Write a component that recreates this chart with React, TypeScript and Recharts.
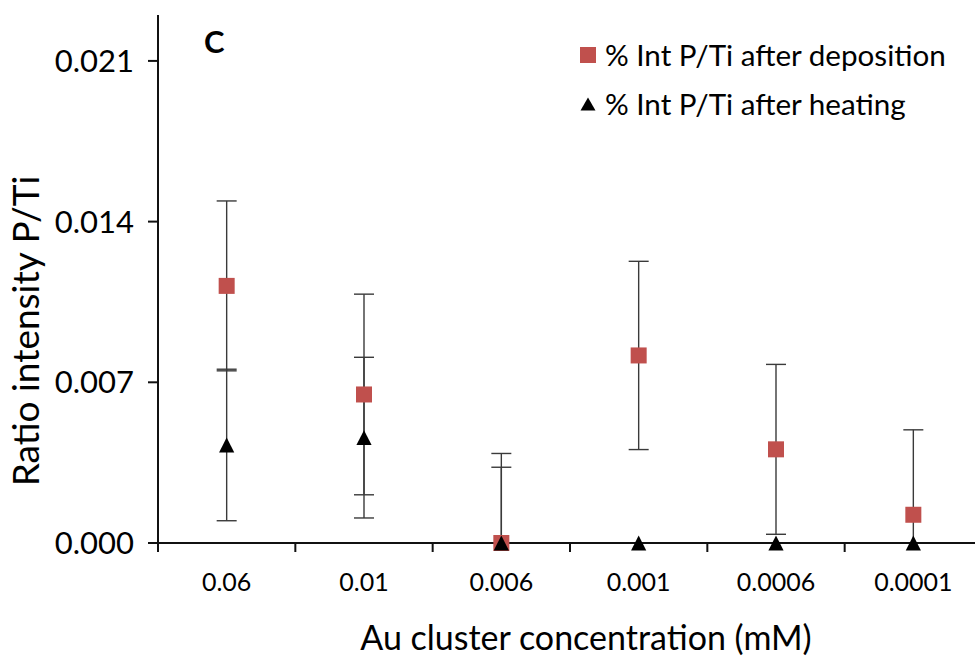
import React from 'react';
import { ScatterChart, Scatter, XAxis, YAxis, ErrorBar, Legend, Customized } from 'recharts';

// Au cluster concentrations (mM), one category per column
const CATEGORIES = ['0.06', '0.01', '0.006', '0.001', '0.0006', '0.0001'];

// P/Ti intensity ratio after deposition, with its standard deviation
const DEPOSITION = [0.0112, 0.00647, 0, 0.00817, 0.00408, 0.00123];
const DEPOSITION_ERR = [0.0037, 0.00437, 0.0039, 0.0041, 0.0037, 0.0037];

// P/Ti intensity ratio after heating, with its standard deviation
const HEATING = [0.00427, 0.00459, 0, 0, 0, 0];
const HEATING_ERR = [0.0033, 0.0035, 0.0033, 0, 0, 0];

const Y_TICKS = [0, 0.007, 0.014, 0.021];
const Y_MAX = 0.023;

const SERIES_NAMES = ['% Int P/Ti after deposition', '% Int P/Ti after heating'];

const FONT = "Lato, 'Open Sans', sans-serif";
const RED = '#C0504D';
const AXIS = '#111';
const ERR = '#3a3a3a';

const X_TICK_SIZE = 9;
const X_TICK_MARGIN = 4;

// error bars are clipped at the axis floor (the ratio cannot go below zero)
const toRows = (vals: number[], errs: number[]) =>
  vals.map((v, i) => ({ x: i + 0.5, y: v, err: [Math.min(errs[i], v), errs[i]] }));

const depositionRows = toRows(DEPOSITION, DEPOSITION_ERR);
const heatingRows = toRows(HEATING, HEATING_ERR);

// boundaries get tick marks, band centres get the category labels
const X_TICKS = Array.from({ length: CATEGORIES.length * 2 + 1 }, (_, k) => k / 2);

const XTick = (props: any) => {
  const { x, y, payload } = props;
  const v = payload.value as number;
  const axisY = y - X_TICK_SIZE - X_TICK_MARGIN;
  if (Number.isInteger(v)) {
    return <line x1={x} x2={x} y1={axisY} y2={axisY + X_TICK_SIZE} stroke={AXIS} strokeWidth={2} />;
  }
  return (
    <text x={x} y={axisY + 48} textAnchor="middle" fontFamily={FONT} fontSize={25} fill="#000">
      {CATEGORIES[Math.floor(v)]}
    </text>
  );
};

const Square = (props: any) => {
  const { cx, cy } = props;
  return <rect x={cx - 8} y={cy - 8} width={16} height={16} fill={RED} />;
};

const Triangle = (props: any) => {
  const { cx, cy } = props;
  return (
    <polygon
      points={`${cx},${cy - 7.4} ${cx + 7.6},${cy + 7.4} ${cx - 7.6},${cy + 7.4}`}
      fill="#000"
    />
  );
};

const Nothing = () => <g />;

const LegendBox = () => (
  <div style={{ fontFamily: FONT, fontSize: 29.6, color: '#000' }}>
    {SERIES_NAMES.map((name, i) => (
      <div key={name} style={{ display: 'flex', alignItems: 'center', height: 49, whiteSpace: 'nowrap' }}>
        <svg width={16} height={16} style={{ flex: 'none' }}>
          {i === 0 ? (
            <rect x={0} y={0} width={16} height={16} fill={RED} />
          ) : (
            <polygon points="8,1.5 15.5,14.5 0.5,14.5" fill="#000" />
          )}
        </svg>
        <span style={{ marginLeft: 9 }}>{name}</span>
      </div>
    ))}
  </div>
);

const Titles = () => (
  <g fontFamily={FONT} fill="#000">
    <text x={204} y={53} fontSize={31} fontWeight={700}>C</text>
    <text
      transform="translate(24,331) rotate(-90)"
      textAnchor="middle"
      dominantBaseline="central"
      fontSize={37}
    >
      Ratio intensity P/Ti
    </text>
    <text x={586} y={650} textAnchor="middle" fontSize={34}>
      Au cluster concentration (mM)
    </text>
  </g>
);

export default function App() {
  return (
    <div
      style={{
        position: 'absolute',
        left: 0,
        top: 0,
        width: 975,
        height: 657,
        overflow: 'hidden',
        background: '#fff',
      }}
    >
      <ScatterChart width={1000} height={657} margin={{ top: 15, right: 18, bottom: 0, left: 0 }}>
        <XAxis
          type="number"
          dataKey="x"
          domain={[0, CATEGORIES.length]}
          ticks={X_TICKS}
          interval={0}
          height={114}
          tickLine={false}
          tickSize={X_TICK_SIZE}
          tickMargin={X_TICK_MARGIN}
          tick={<XTick />}
          axisLine={{ stroke: AXIS, strokeWidth: 2 }}
        />
        <YAxis
          type="number"
          dataKey="y"
          domain={[0, Y_MAX]}
          ticks={Y_TICKS}
          interval={0}
          width={158}
          tickSize={10}
          tickMargin={14}
          tickFormatter={(v: number) => v.toFixed(3)}
          tick={{ fontFamily: FONT, fontSize: 31, fill: '#000' }}
          tickLine={{ stroke: AXIS, strokeWidth: 2 }}
          axisLine={{ stroke: AXIS, strokeWidth: 2 }}
        />
        {/* error bars first so every marker sits on top of them */}
        <Scatter data={depositionRows} shape={<Nothing />} isAnimationActive={false} legendType="none">
          <ErrorBar dataKey="err" direction="y" width={10} stroke={ERR} strokeWidth={1.4} isAnimationActive={false} />
        </Scatter>
        <Scatter data={heatingRows} shape={<Nothing />} isAnimationActive={false} legendType="none">
          <ErrorBar dataKey="err" direction="y" width={10} stroke={ERR} strokeWidth={1.4} isAnimationActive={false} />
        </Scatter>
        <Scatter name={SERIES_NAMES[0]} data={depositionRows} shape={<Square />} isAnimationActive={false} />
        <Scatter name={SERIES_NAMES[1]} data={heatingRows} shape={<Triangle />} isAnimationActive={false} />
        <Legend
          layout="vertical"
          align="center"
          verticalAlign="middle"
          content={<LegendBox />}
          wrapperStyle={{ left: 580, top: 30, width: 395 }}
        />
        <Customized component={Titles} />
      </ScatterChart>
    </div>
  );
}
